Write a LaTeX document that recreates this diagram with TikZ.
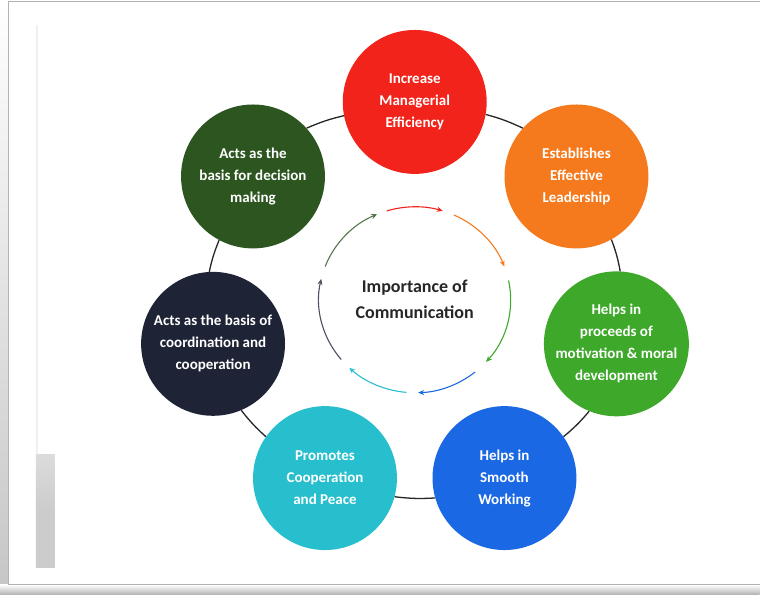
\documentclass[tikz,border=0pt]{standalone}
\usepackage{fontspec}
\setmainfont{Carlito}
\usetikzlibrary{arrows.meta}
\definecolor{imred}{HTML}{F2231B}
\definecolor{imorange}{HTML}{F57A1E}
\definecolor{imgreen}{HTML}{3DA82A}
\definecolor{imblue}{HTML}{1A68E3}
\definecolor{imcyan}{HTML}{27BFCE}
\definecolor{imnavy}{HTML}{1E2436}
\definecolor{imforest}{HTML}{2D5520}
\tikzset{
  bubble/.style={circle, minimum size=144pt, inner sep=0pt, text=white, align=center,
    font=\bfseries\fontsize{15}{22}\selectfont},
  link/.style={line width=1.3pt, black!85},
  ringarrow/.style={line width=1.1pt, -{Stealth[length=6pt,width=5pt]}}
}

\begin{document}
\begin{tikzpicture}[x=1pt,y=1pt]
    % page, frame and shadow
    \fill[white] (-415,-295) rectangle (345,300);
    \shade[top color=white, bottom color=gray!45] (-415,-295) rectangle (-406,300);
    \shade[top color=white, bottom color=gray!60] (-415,-295) rectangle (345,-285);
    \draw[gray!60, line width=1pt] (345,298.5) -- (-406,298.5) -- (-406,-285) -- (345,-285);
    \draw[gray!12, line width=1.5pt] (-378,275) -- (-378,-155);
    \shade[top color=gray!28, bottom color=gray!40, middle color=gray!40] (-379,-155) rectangle (-360,-268);
    % the seven bubbles round the ring
    \foreach \nm/\ang/\col/\txt in {
        eff/90/imred/{Increase\\Managerial\\Efficiency},
        lead/38.57/imorange/{Establishes\\Effective\\Leadership},
        motiv/-12.86/imgreen/{Helps in\\proceeds of\\motivation \& moral\\development},
        smooth/-64.29/imblue/{Helps in\\Smooth\\Working},
        peace/-115.71/imcyan/{Promotes\\Cooperation\\and Peace},
        coord/-167.14/imnavy/{Acts as the basis of\\coordination and\\cooperation},
        decide/-218.57/imforest/{Acts as the\\basis for decision\\making}}
      \node[bubble, fill=\col] (\nm) at ({207*cos(\ang)},{198*sin(\ang)}) {\txt};
    % short pieces of the outer ring between neighbours
    \foreach \a/\b/\ang [evaluate=\ang as \out using \ang-100,
                         evaluate=\ang as \in using \ang+48.6] in
        {eff/lead/90, lead/motiv/38.57, motiv/smooth/-12.86, smooth/peace/-64.29,
         peace/coord/-115.71, coord/decide/-167.14, decide/eff/-218.57}
      \draw[link] (\a.\out) to[bend left=5] (\b.\in);
    % centre
    \node[font=\bfseries\fontsize{18}{26}\selectfont, text=black!85, align=center] (core) at (0,0)
      {Importance of\\Communication};
    \foreach \col/\s/\e in {imred/107/73, imorange/66/21, imgreen/12/-42, imblue/-51/-88,
        imcyan/-95/-133, imnavy!80/-140/-193, imforest!80/-201/-247}
      \draw[ringarrow, \col] (\s:96 and 93) arc[start angle=\s, end angle=\e, x radius=96, y radius=93];
\end{tikzpicture}
\end{document}
